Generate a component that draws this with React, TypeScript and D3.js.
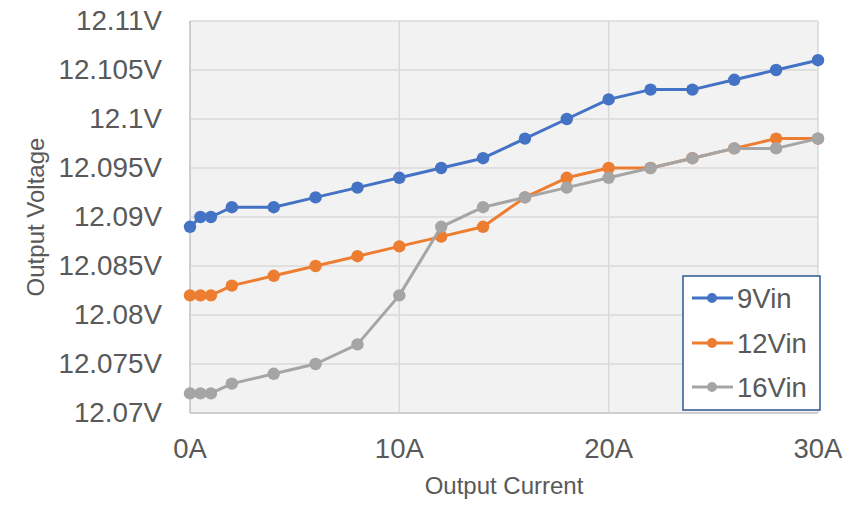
import React from "react";
import * as d3 from "d3";

const currents = [0, 0.5, 1, 2, 4, 6, 8, 10, 12, 14, 16, 18, 20, 22, 24, 26, 28, 30];
const v9 = [12.089, 12.09, 12.09, 12.091, 12.091, 12.092, 12.093, 12.094, 12.095, 12.096, 12.098, 12.1, 12.102, 12.103, 12.103, 12.104, 12.105, 12.106];
const v12 = [12.082, 12.082, 12.082, 12.083, 12.084, 12.085, 12.086, 12.087, 12.088, 12.089, 12.092, 12.094, 12.095, 12.095, 12.096, 12.097, 12.098, 12.098];
const v16 = [12.072, 12.072, 12.072, 12.073, 12.074, 12.075, 12.077, 12.082, 12.089, 12.091, 12.092, 12.093, 12.094, 12.095, 12.096, 12.097, 12.097, 12.098];
const seriesNames = ["9Vin", "12Vin", "16Vin"];
const seriesColors = ["#4472C4", "#ED7D31", "#A5A5A5"];
const xTicks = [0, 10, 20, 30];
const yTicks = [12.07, 12.075, 12.08, 12.085, 12.09, 12.095, 12.1, 12.105, 12.11];
const xTitle = "Output Current";
const yTitle = "Output Voltage";

const W = 861, H = 509;
const left = 190, right = 818, top = 21, bottom = 413;
const font = "'Liberation Sans', Arial, sans-serif";
const textColor = "#595959";

export default function App() {
  const x = d3.scaleLinear().domain([0, 30]).range([left, right]);
  const y = d3.scaleLinear().domain([12.07, 12.11]).range([bottom, top]);
  const series = [v9, v12, v16];
  const line = d3.line<number>().x((_, i) => x(currents[i])).y((d) => y(d));
  const fmtY = (v: number) => `${+v.toFixed(3)}V`;
  const legendX = 683, legendY = 276, legendW = 137, legendH = 134;
  const legendRows = [298, 343, 387];
  return (
    <svg width={W} height={H} style={{ position: "absolute", left: 0, top: 0, background: "#fff" }}>
      <rect x={left} y={top} width={right - left} height={bottom - top} fill="#F2F2F2" />
      {yTicks.map((t) => (
        <line key={"gy" + t} x1={left} x2={right} y1={y(t)} y2={y(t)} stroke="#D9D9D9" strokeWidth={1.5} />
      ))}
      {xTicks.map((t) => (
        <line key={"gx" + t} x1={x(t)} x2={x(t)} y1={top} y2={bottom} stroke="#D9D9D9" strokeWidth={1.5} />
      ))}
      <line x1={left} x2={right} y1={bottom} y2={bottom} stroke="#C8C8C8" strokeWidth={1.5} />
      <line x1={left} x2={left} y1={top} y2={bottom} stroke="#C8C8C8" strokeWidth={1.5} />
      {yTicks.map((t) => (
        <text key={"ty" + t} x={162} y={y(t) + 8.5} textAnchor="end" fontFamily={font} fontSize={27.8} fill={textColor}>
          {fmtY(t)}
        </text>
      ))}
      {xTicks.map((t) => (
        <text key={"tx" + t} x={x(t)} y={458} textAnchor="middle" fontFamily={font} fontSize={27.5} fill={textColor}>
          {`${t}A`}
        </text>
      ))}
      <text x={(left + right) / 2} y={494} textAnchor="middle" fontFamily={font} fontSize={24} fill={textColor}>
        {xTitle}
      </text>
      <text transform={`translate(44,${(top + bottom) / 2}) rotate(-90)`} textAnchor="middle" fontFamily={font} fontSize={24} fill={textColor}>
        {yTitle}
      </text>
      {series.map((s, k) => (
        <g key={"s" + k}>
          <path d={line(s) || ""} fill="none" stroke={seriesColors[k]} strokeWidth={3} strokeLinejoin="round" />
          {s.map((v, i) => (
            <circle key={i} cx={x(currents[i])} cy={y(v)} r={6.2} fill={seriesColors[k]} />
          ))}
        </g>
      ))}
      <rect x={legendX} y={legendY} width={legendW} height={legendH} fill="#fff" stroke="#2F5597" strokeWidth={1.5} />
      {seriesNames.map((n, k) => (
        <g key={"l" + k}>
          <line x1={692} x2={733} y1={legendRows[k]} y2={legendRows[k]} stroke={seriesColors[k]} strokeWidth={3} />
          <circle cx={712} cy={legendRows[k]} r={5} fill={seriesColors[k]} />
          <text x={737} y={legendRows[k] + 9.5} fontFamily={font} fontSize={27.5} fill={textColor}>
            {n}
          </text>
        </g>
      ))}
    </svg>
  );
}
